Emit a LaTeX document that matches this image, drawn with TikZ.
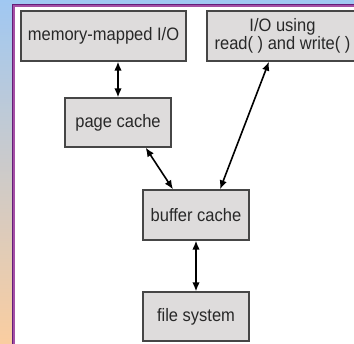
\documentclass[tikz,border=0pt]{standalone}
\usepackage{fontspec}
\setmainfont{Liberation Sans}[FakeStretch=0.917]
\usepackage{tikz}
\usetikzlibrary{arrows.meta}

\definecolor{skyblue}{RGB}{160,200,242}
\definecolor{mauve}{RGB}{218,196,204}
\definecolor{peach}{RGB}{250,205,160}
\definecolor{darkpurple}{RGB}{100,30,120}
\definecolor{lightpurple}{RGB}{165,80,165}
\definecolor{boxgray}{RGB}{222,220,220}
\definecolor{edgegray}{RGB}{70,70,70}
\definecolor{textgray}{RGB}{40,40,40}

\tikzset{
  blk/.style={draw=edgegray, fill=boxgray, line width=1.3pt, inner sep=0pt,
    text=textgray, align=center, font=\fontsize{18}{17.5}\selectfont},
  link/.style={line width=1.6pt, {Latex[length=9pt,width=7.5pt]}-{Latex[length=9pt,width=7.5pt]}}
}

\begin{document}
\begin{tikzpicture}[x=1pt,y=-1pt]
	\useasboundingbox (0,0) rectangle (354,344);
	\clip (0,0) rectangle (354,344);

	% slide background
	\shade[top color=skyblue, middle color=mauve, bottom color=peach] (0,0) rectangle (354,344);
	\fill[darkpurple] (12,4) rectangle (354,344);
	\fill[lightpurple] (13,5) rectangle (354,344);
	\fill[white] (15,7) rectangle (354,344);

	% boxes
	\node[blk, minimum width=165pt, minimum height=50pt] (mmio) at (103.5,36) {memory-mapped I/O};
	\node[blk, minimum width=151pt, minimum height=50pt] (rw) at (282.5,36) {I/O using\\read( ) and write( )};
	\node[blk, minimum width=106pt, minimum height=49pt] (page) at (118,122.5) {page cache};
	\node[blk, minimum width=106pt, minimum height=50pt] (buf) at (196,215) {buffer cache};
	\node[blk, minimum width=106pt, minimum height=49pt] (fs) at (196,316.5) {file system};

	% arrows
	\draw[link] (mmio.south -| page.north) -- (page.north);
	\draw[link] ([xshift=-26pt]page.south east) -- ([xshift=-23pt]buf.north);
	\draw[link] ([xshift=-13.5pt]rw.south) -- ([xshift=24pt]buf.north);
	\draw[link] (buf.south) -- (fs.north);
\end{tikzpicture}
\end{document}
